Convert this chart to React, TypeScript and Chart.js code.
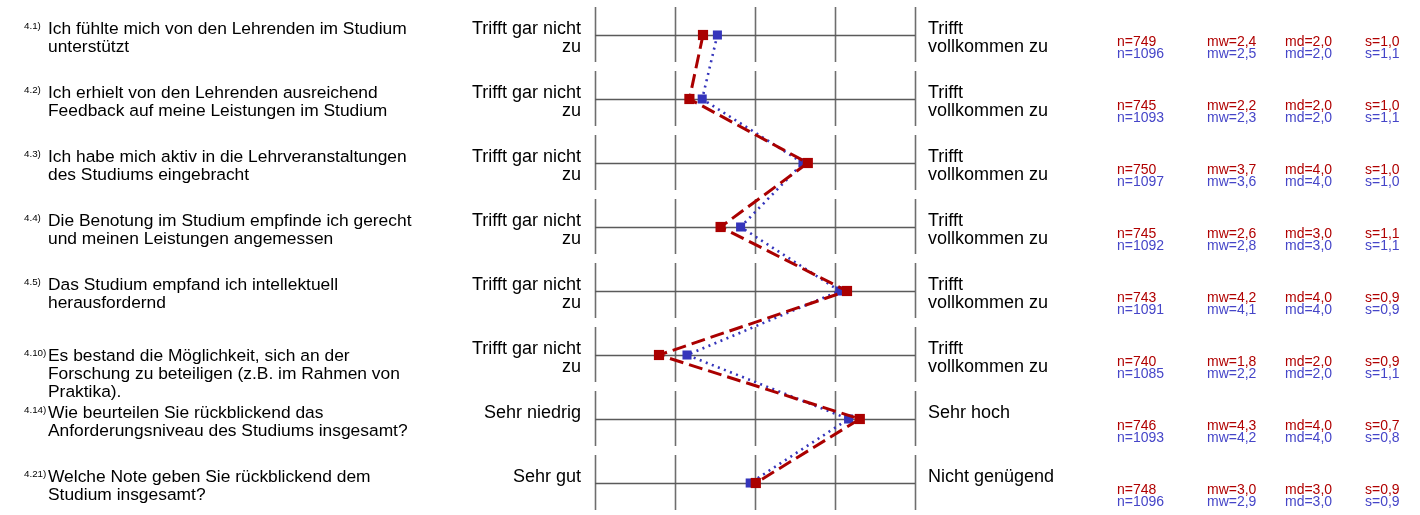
import React, { useEffect, useRef } from "react";
import { Chart, registerables } from "chart.js";

Chart.register(...registerables);

const itemNumbers = ["4.1)", "4.2)", "4.3)", "4.4)", "4.5)", "4.10)", "4.14)", "4.21)"];
const questions: string[][] = [
  ["Ich fühlte mich von den Lehrenden im Studium", "unterstützt"],
  ["Ich erhielt von den Lehrenden ausreichend", "Feedback auf meine Leistungen im Studium"],
  ["Ich habe mich aktiv in die Lehrveranstaltungen", "des Studiums eingebracht"],
  ["Die Benotung im Studium empfinde ich gerecht", "und meinen Leistungen angemessen"],
  ["Das Studium empfand ich intellektuell", "herausfordernd"],
  ["Es bestand die Möglichkeit, sich an der", "Forschung zu beteiligen (z.B. im Rahmen von", "Praktika)."],
  ["Wie beurteilen Sie rückblickend das", "Anforderungsniveau des Studiums insgesamt?"],
  ["Welche Note geben Sie rückblickend dem", "Studium insgesamt?"],
];
const leftLabels: string[][] = [
  ["Trifft gar nicht", "zu"],
  ["Trifft gar nicht", "zu"],
  ["Trifft gar nicht", "zu"],
  ["Trifft gar nicht", "zu"],
  ["Trifft gar nicht", "zu"],
  ["Trifft gar nicht", "zu"],
  ["Sehr niedrig"],
  ["Sehr gut"],
];
const rightLabels: string[][] = [
  ["Trifft", "vollkommen zu"],
  ["Trifft", "vollkommen zu"],
  ["Trifft", "vollkommen zu"],
  ["Trifft", "vollkommen zu"],
  ["Trifft", "vollkommen zu"],
  ["Trifft", "vollkommen zu"],
  ["Sehr hoch"],
  ["Nicht genügend"],
];

const scaleTicks = [1, 2, 3, 4, 5];

const redValues = [2.35, 2.18, 3.66, 2.57, 4.15, 1.8, 4.31, 3.01];
const blueValues = [2.53, 2.34, 3.6, 2.82, 4.06, 2.15, 4.17, 2.94];

const redN = ["749", "745", "750", "745", "743", "740", "746", "748"];
const redMw = ["2,4", "2,2", "3,7", "2,6", "4,2", "1,8", "4,3", "3,0"];
const redMd = ["2,0", "2,0", "4,0", "3,0", "4,0", "2,0", "4,0", "3,0"];
const redS = ["1,0", "1,0", "1,0", "1,1", "0,9", "0,9", "0,7", "0,9"];
const blueN = ["1096", "1093", "1097", "1092", "1091", "1085", "1093", "1096"];
const blueMw = ["2,5", "2,3", "3,6", "2,8", "4,1", "2,2", "4,2", "2,9"];
const blueMd = ["2,0", "2,0", "4,0", "3,0", "4,0", "2,0", "4,0", "3,0"];
const blueS = ["1,1", "1,1", "1,0", "1,1", "0,9", "1,1", "0,8", "0,9"];

const RED = "#aa0000";
const BLUE = "#3535bb";
const RED_TEXT = "#b00000";
const BLUE_TEXT = "#4545c8";
const FONT = '"Liberation Sans", Arial, Helvetica, sans-serif';

const profilePlugin = {
  id: "profileGrid",
  beforeDatasetsDraw(chart: any) {
    const { ctx, scales } = chart;
    const xs = scales.x;
    const ys = scales.y;
    ctx.save();
    for (let i = 0; i < itemNumbers.length; i++) {
      const yc = ys.getPixelForValue(i);
      ctx.strokeStyle = "#6e6e6e";
      ctx.lineWidth = 1.6;
      for (const t of scaleTicks) {
        const px = Math.round(xs.getPixelForValue(t)) + 0.5;
        ctx.beginPath();
        ctx.moveTo(px, yc - 28);
        ctx.lineTo(px, yc + 27);
        ctx.stroke();
      }
      ctx.strokeStyle = "#5a5a5a";
      ctx.lineWidth = 1.4;
      ctx.beginPath();
      ctx.moveTo(xs.getPixelForValue(scaleTicks[0]), Math.round(yc) + 0.5);
      ctx.lineTo(xs.getPixelForValue(scaleTicks[scaleTicks.length - 1]), Math.round(yc) + 0.5);
      ctx.stroke();
    }
    ctx.restore();
  },
  afterDraw(chart: any) {
    const { ctx, scales } = chart;
    const xs = scales.x;
    const ys = scales.y;
    const xMin = xs.getPixelForValue(scaleTicks[0]);
    const xMax = xs.getPixelForValue(scaleTicks[scaleTicks.length - 1]);
    ctx.save();
    ctx.textBaseline = "alphabetic";
    for (let i = 0; i < itemNumbers.length; i++) {
      const yc = ys.getPixelForValue(i);
      const base = yc - 1;
      const lh = 18;
      const qBase = base + (questions[i].length > 2 ? 7 : 0);
      // item number
      ctx.fillStyle = "#000";
      ctx.textAlign = "left";
      ctx.font = `9.8px ${FONT}`;
      ctx.fillText(itemNumbers[i], 24, qBase - 5);
      // question
      ctx.font = `17.4px ${FONT}`;
      questions[i].forEach((line, k) => ctx.fillText(line, 48, qBase + k * lh));
      // left label
      ctx.font = `18px ${FONT}`;
      ctx.textAlign = "right";
      leftLabels[i].forEach((line, k) => ctx.fillText(line, xMin - 14, base + k * lh));
      // right label
      ctx.textAlign = "left";
      rightLabels[i].forEach((line, k) => ctx.fillText(line, xMax + 13, base + k * lh));
      // stats
      ctx.font = `14px ${FONT}`;
      const sb1 = yc + 11;
      const sb2 = yc + 23;
      ctx.fillStyle = RED_TEXT;
      ctx.fillText("n=" + redN[i], 1117, sb1);
      ctx.fillText("mw=" + redMw[i], 1207, sb1);
      ctx.fillText("md=" + redMd[i], 1285, sb1);
      ctx.fillText("s=" + redS[i], 1365, sb1);
      ctx.fillStyle = BLUE_TEXT;
      ctx.fillText("n=" + blueN[i], 1117, sb2);
      ctx.fillText("mw=" + blueMw[i], 1207, sb2);
      ctx.fillText("md=" + blueMd[i], 1285, sb2);
      ctx.fillText("s=" + blueS[i], 1365, sb2);
    }
    ctx.restore();
  },
};

export default function App() {
  const canvasRef = useRef<HTMLCanvasElement | null>(null);

  useEffect(() => {
    if (!canvasRef.current) return;
    const chart = new Chart(canvasRef.current, {
      type: "line",
      data: {
        labels: itemNumbers,
        datasets: [
          {
            label: "blue",
            data: blueValues,
            borderColor: BLUE,
            backgroundColor: BLUE,
            borderWidth: 2.6,
            borderDash: [2, 4.5],
            pointStyle: "rect",
            pointRadius: 6.4,
            pointBorderWidth: 0,
            pointBackgroundColor: BLUE,
            tension: 0,
            order: 2,
          },
          {
            label: "red",
            data: redValues,
            borderColor: RED,
            backgroundColor: RED,
            borderWidth: 3,
            borderDash: [14, 6],
            pointStyle: "rect",
            pointRadius: 7.2,
            pointBorderWidth: 0,
            pointBackgroundColor: RED,
            tension: 0,
            order: 1,
          },
        ],
      },
      options: {
        indexAxis: "y",
        animation: false,
        responsive: false,
        events: [],
        layout: { autoPadding: false, padding: { left: 595, right: 505, top: 3, bottom: 0 } },
        plugins: { legend: { display: false }, tooltip: { enabled: false } },
        scales: {
          x: { type: "linear", min: 1, max: 5, display: false },
          y: { type: "category", offset: true, display: false },
        },
      },
      plugins: [profilePlugin],
    } as any);
    return () => chart.destroy();
  }, []);

  return (
    <div style={{ position: "absolute", left: 0, top: 0, width: 1420, height: 515, background: "#fff" }}>
      <canvas ref={canvasRef} width={1420} height={515} />
    </div>
  );
}
